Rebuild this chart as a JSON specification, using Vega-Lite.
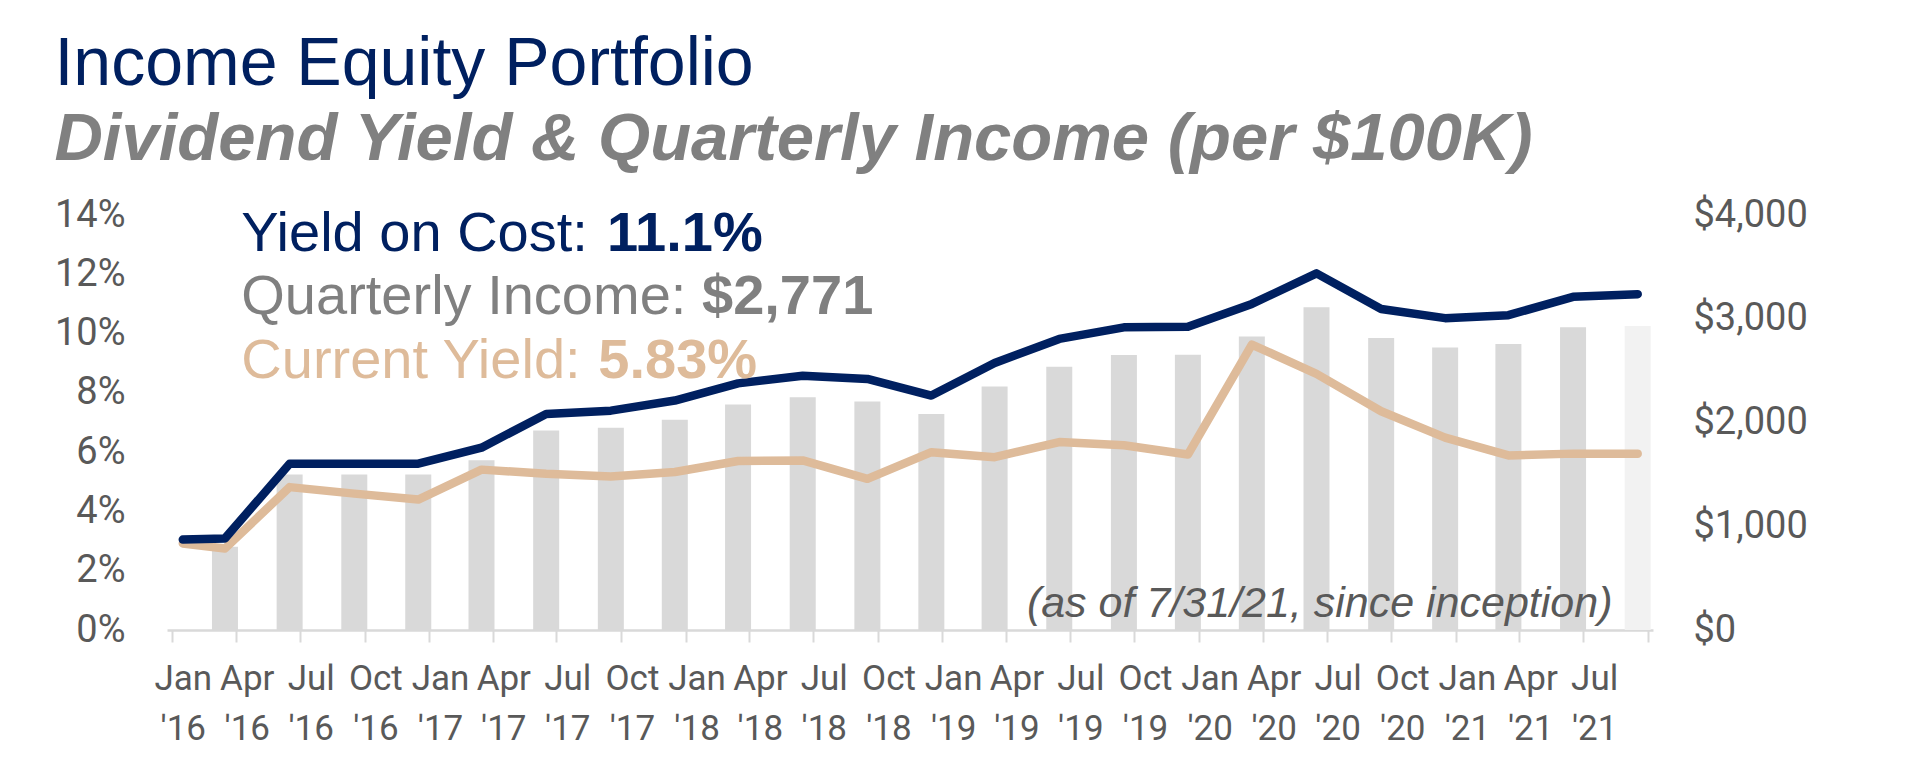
{
  "$schema": "https://vega.github.io/schema/vega-lite/v6.json",
  "width": 1486,
  "height": 415,
  "autosize": "none",
  "padding": {"left": 167, "top": 215, "right": 255, "bottom": 146},
  "background": "white",
  "title": {
    "text": "Income Equity Portfolio",
    "subtitle": "Dividend Yield & Quarterly Income (per $100K)",
    "anchor": "start",
    "frame": "bounds",
    "font": "Liberation Sans",
    "fontSize": 68,
    "fontWeight": "normal",
    "color": "#002060",
    "subtitleFont": "Liberation Sans",
    "subtitleFontSize": 67,
    "subtitleFontStyle": "italic",
    "subtitleFontWeight": "bold",
    "subtitleColor": "#808080",
    "subtitlePadding": 8,
    "offset": 23
  },
  "datasets": {
    "quarters": [
      {"date": "2016-01", "income": null, "yield_on_cost": 3.05, "current_yield": 2.92, "status": "reported"},
      {"date": "2016-03", "income": 803, "yield_on_cost": 3.09, "current_yield": 2.75, "status": "reported"},
      {"date": "2016-06", "income": 1500, "yield_on_cost": 5.61, "current_yield": 4.82, "status": "reported"},
      {"date": "2016-09", "income": 1500, "yield_on_cost": 5.61, "current_yield": 4.6, "status": "reported"},
      {"date": "2016-12", "income": 1500, "yield_on_cost": 5.61, "current_yield": 4.4, "status": "reported"},
      {"date": "2017-03", "income": 1635, "yield_on_cost": 6.15, "current_yield": 5.41, "status": "reported"},
      {"date": "2017-06", "income": 1923, "yield_on_cost": 7.29, "current_yield": 5.27, "status": "reported"},
      {"date": "2017-09", "income": 1949, "yield_on_cost": 7.4, "current_yield": 5.18, "status": "reported"},
      {"date": "2017-12", "income": 2026, "yield_on_cost": 7.74, "current_yield": 5.33, "status": "reported"},
      {"date": "2018-03", "income": 2173, "yield_on_cost": 8.32, "current_yield": 5.7, "status": "reported"},
      {"date": "2018-06", "income": 2244, "yield_on_cost": 8.58, "current_yield": 5.72, "status": "reported"},
      {"date": "2018-09", "income": 2202, "yield_on_cost": 8.47, "current_yield": 5.1, "status": "reported"},
      {"date": "2018-12", "income": 2083, "yield_on_cost": 7.91, "current_yield": 6.0, "status": "reported"},
      {"date": "2019-03", "income": 2346, "yield_on_cost": 9.01, "current_yield": 5.83, "status": "reported"},
      {"date": "2019-06", "income": 2538, "yield_on_cost": 9.82, "current_yield": 6.34, "status": "reported"},
      {"date": "2019-09", "income": 2651, "yield_on_cost": 10.21, "current_yield": 6.23, "status": "reported"},
      {"date": "2019-12", "income": 2654, "yield_on_cost": 10.23, "current_yield": 5.92, "status": "reported"},
      {"date": "2020-03", "income": 2830, "yield_on_cost": 11.0, "current_yield": 9.63, "status": "reported"},
      {"date": "2020-06", "income": 3112, "yield_on_cost": 12.03, "current_yield": 8.64, "status": "reported"},
      {"date": "2020-09", "income": 2814, "yield_on_cost": 10.83, "current_yield": 7.38, "status": "reported"},
      {"date": "2020-12", "income": 2724, "yield_on_cost": 10.52, "current_yield": 6.49, "status": "reported"},
      {"date": "2021-03", "income": 2756, "yield_on_cost": 10.62, "current_yield": 5.89, "status": "reported"},
      {"date": "2021-06", "income": 2917, "yield_on_cost": 11.24, "current_yield": 5.95, "status": "reported"},
      {"date": "2021-09", "income": 2929, "yield_on_cost": 11.33, "current_yield": 5.95, "status": "partial"}
    ],
    "stats": [
      {"stat": "Yield on Cost", "label": "Yield on Cost: ", "value": "11.1%"},
      {"stat": "Quarterly Income", "label": "Quarterly Income: ", "value": "$2,771"},
      {"stat": "Current Yield", "label": "Current Yield: ", "value": "5.83%"}
    ],
    "notes": [
      {"note": "(as of 7/31/21, since inception)"}
    ]
  },
  "layer": [
    {
      "data": {"name": "quarters"},
      "transform": [{"filter": "isValid(datum.income)"}],
      "mark": {"type": "bar", "width": 26, "xOffset": 10.8},
      "encoding": {
        "x": {
          "field": "date",
          "type": "temporal",
          "title": null,
          "scale": {
            "type": "utc",
            "domain": [
              {"year": 2016, "month": 1, "date": 1, "utc": true},
              {"year": 2021, "month": 10, "date": 1, "utc": true}
            ]
          },
          "axis": {
            "orient": "bottom",
            "tickCount": {"interval": "month", "step": 3},
            "labelExpr": "utcyear(datum.value) == 2021 && utcmonth(datum.value) == 9 ? '' : [utcFormat(datum.value, '%b'), \"'\" + utcFormat(datum.value, '%y')]",
            "labelOffset": 10.8,
            "labelFont": "Roboto",
            "labelFontSize": 35,
            "labelColor": "#595959",
            "labelLineHeight": 50,
            "labelPadding": 19,
            "labelOverlap": false,
            "labelBound": false,
            "labelFlush": false,
            "domainColor": "#d9d9d9",
            "domainWidth": 2.5,
            "tickColor": "#d9d9d9",
            "tickWidth": 2,
            "tickSize": 12,
            "grid": false
          }
        },
        "y": {
          "field": "income",
          "type": "quantitative",
          "title": null,
          "scale": {"domain": [0, 4000]},
          "axis": {
            "orient": "right",
            "values": [0, 1000, 2000, 3000, 4000],
            "format": "$,.0f",
            "domain": false,
            "ticks": false,
            "grid": false,
            "labelPadding": 40,
            "labelFont": "Roboto",
            "labelFontSize": 38,
            "labelColor": "#595959"
          }
        },
        "color": {
          "field": "status",
          "type": "nominal",
          "scale": {"domain": ["reported", "partial"], "range": ["#d9d9d9", "#f2f2f2"]},
          "legend": null
        }
      }
    },
    {
      "data": {"name": "quarters"},
      "layer": [
        {
          "mark": {"type": "line", "color": "#DEBB9A", "strokeWidth": 8.5, "strokeCap": "round", "strokeJoin": "round", "xOffset": 10.8},
          "encoding": {
            "x": {"field": "date", "type": "temporal"},
            "y": {
              "field": "current_yield",
              "type": "quantitative",
              "title": null,
              "scale": {"domain": [0, 14]},
              "axis": {
                "orient": "left",
                "values": [0, 2, 4, 6, 8, 10, 12, 14],
                "labelExpr": "datum.value + '%'",
                "domain": false,
                "ticks": false,
                "grid": false,
                "labelPadding": 42,
                "labelFont": "Roboto",
                "labelFontSize": 38,
                "labelColor": "#595959"
              }
            }
          }
        },
        {
          "mark": {"type": "line", "color": "#002060", "strokeWidth": 8.5, "strokeCap": "round", "strokeJoin": "round", "xOffset": 10.8},
          "encoding": {
            "x": {"field": "date", "type": "temporal"},
            "y": {
              "field": "yield_on_cost",
              "type": "quantitative",
              "title": null,
              "axis": {
                "orient": "left",
                "values": [0, 2, 4, 6, 8, 10, 12, 14],
                "labelExpr": "datum.value + '%'",
                "domain": false,
                "ticks": false,
                "grid": false,
                "labelPadding": 42,
                "labelFont": "Roboto",
                "labelFontSize": 38,
                "labelColor": "#595959"
              }
            }
          }
        },
        {
          "data": {"name": "notes"},
          "mark": {
            "type": "text",
            "align": "right",
            "baseline": "alphabetic",
            "dx": -35.5,
            "dy": -13,
            "font": "Liberation Sans",
            "fontSize": 43,
            "fontStyle": "italic",
            "color": "#595959"
          },
          "encoding": {
            "x": {"datum": {"year": 2021, "month": 10, "date": 1, "utc": true}, "type": "temporal"},
            "y": {"datum": 0, "type": "quantitative"},
            "text": {"field": "note"}
          }
        },
        {
          "data": {"name": "stats"},
          "encoding": {
            "x": {"datum": {"year": 2016, "month": 1, "date": 1, "utc": true}, "type": "temporal"},
            "y": {"datum": 14, "type": "quantitative"}
          },
          "layer": [
            {
              "transform": [{"filter": "datum.stat === 'Yield on Cost'"}],
              "mark": {"type": "text", "align": "left", "baseline": "alphabetic", "dx": 69.3, "dy": 35.7, "font": "Liberation Sans", "fontSize": 56, "color": "#002060"},
              "encoding": {"text": {"field": "label"}}
            },
            {
              "transform": [{"filter": "datum.stat === 'Yield on Cost'"}],
              "mark": {"type": "text", "align": "left", "baseline": "alphabetic", "dx": 435, "dy": 35.7, "font": "Liberation Sans", "fontSize": 56, "fontWeight": "bold", "color": "#002060"},
              "encoding": {"text": {"field": "value"}}
            },
            {
              "transform": [{"filter": "datum.stat === 'Quarterly Income'"}],
              "mark": {"type": "text", "align": "left", "baseline": "alphabetic", "dx": 69.3, "dy": 99, "font": "Liberation Sans", "fontSize": 56, "color": "#808080"},
              "encoding": {"text": {"field": "label"}}
            },
            {
              "transform": [{"filter": "datum.stat === 'Quarterly Income'"}],
              "mark": {"type": "text", "align": "left", "baseline": "alphabetic", "dx": 530, "dy": 99, "font": "Liberation Sans", "fontSize": 56, "fontWeight": "bold", "color": "#808080"},
              "encoding": {"text": {"field": "value"}}
            },
            {
              "transform": [{"filter": "datum.stat === 'Current Yield'"}],
              "mark": {"type": "text", "align": "left", "baseline": "alphabetic", "dx": 69.3, "dy": 163.3, "font": "Liberation Sans", "fontSize": 56, "color": "#DEBB9A"},
              "encoding": {"text": {"field": "label"}}
            },
            {
              "transform": [{"filter": "datum.stat === 'Current Yield'"}],
              "mark": {"type": "text", "align": "left", "baseline": "alphabetic", "dx": 426.3, "dy": 163.3, "font": "Liberation Sans", "fontSize": 56, "fontWeight": "bold", "color": "#DEBB9A"},
              "encoding": {"text": {"field": "value"}}
            }
          ]
        }
      ]
    }
  ],
  "resolve": {"scale": {"y": "independent", "color": "independent"}},
  "config": {
    "view": {"stroke": null},
    "axis": {"grid": false}
  }
}
